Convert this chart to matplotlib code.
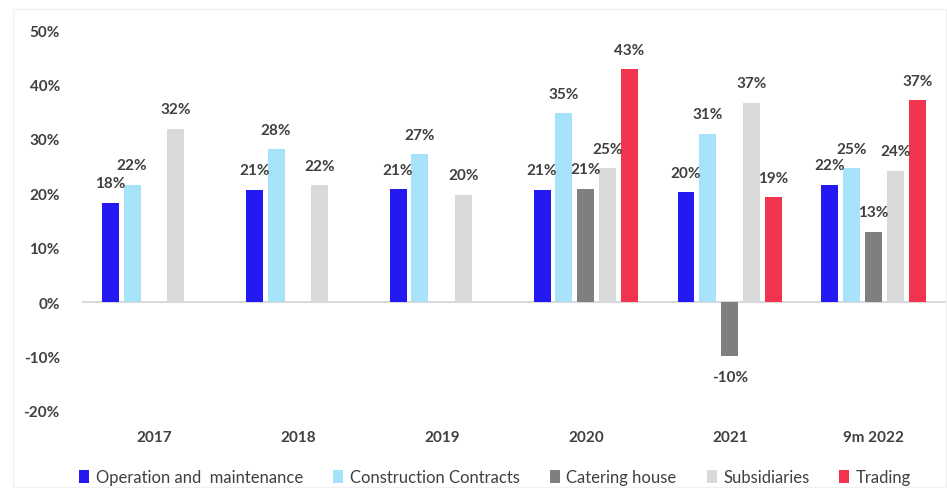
import numpy as np
import matplotlib.pyplot as plt
from matplotlib.patches import Rectangle

plt.rcParams['font.family'] = ['Lato', 'DejaVu Sans']

years = ['2017', '2018', '2019', '2020', '2021', '9m 2022']
series = ['Operation and  maintenance', 'Construction Contracts',
          'Catering house', 'Subsidiaries', 'Trading']
operation = [18.3, 20.6, 20.7, 20.6, 20.2, 21.6]
construction = [21.6, 28.1, 27.2, 34.7, 30.9, 24.6]
catering = [np.nan, np.nan, np.nan, 20.8, -9.9, 12.9]
subsidiaries = [31.9, 21.5, 19.7, 24.6, 36.6, 24.1]
trading = [np.nan, np.nan, np.nan, 42.8, 19.3, 37.1]
colors = ['#2419F2', '#A6E3FB', '#7F7F7F', '#D9D9D9', '#F2344F']

fig = plt.figure(figsize=(9.47, 4.89), dpi=100)
ax = fig.add_axes([0.0866, 0.1575, 0.912, 0.779])

x = np.arange(len(years))
width = 0.118
step = 0.152
all_data = [operation, construction, catering, subsidiaries, trading]
for i, vals in enumerate(all_data):
    pos = x + (i - 2) * step
    ax.bar(pos, vals, width, color=colors[i], label=series[i])
    for xp, v in zip(pos, vals):
        if np.isnan(v):
            continue
        off = 3.6 if v >= 0 else -3.9
        ax.text(xp, v + off, '%d%%' % round(v), ha='center',
                va='center', fontsize=11, fontweight='bold', color='#404040')

ax.axhline(0, color='#D9D9D9', lw=1.5, zorder=0)
ax.set_xlim(-0.5, 5.5)
ax.set_ylim(-20, 50)
ax.set_yticks(range(-20, 51, 10))
ax.set_yticklabels(['%d%%' % t for t in range(-20, 51, 10)])
ax.set_xticks(x)
ax.set_xticklabels(years)
for s in ax.spines.values():
    s.set_visible(False)
ax.tick_params(length=0, labelsize=11, colors='#404040', pad=16)
ax.tick_params(axis='x', pad=14)
for lab in ax.get_xticklabels() + ax.get_yticklabels():
    lab.set_fontweight('bold')

handles, labels = ax.get_legend_handles_labels()
fig.legend(handles, labels, loc='center', bbox_to_anchor=(0.523, 0.022),
           ncol=5, frameon=False, fontsize=12, handlelength=0.6,
           handleheight=0.9, handletextpad=0.4, columnspacing=1.8,
           labelcolor='#404040')

fig.patches.append(Rectangle((13 / 947, 0.002), 0.985, 1 - 10 / 489 - 0.002,
                             transform=fig.transFigure, fill=False,
                             edgecolor='#F2F2F2', lw=1))

fig.savefig('out.png', dpi=100)
